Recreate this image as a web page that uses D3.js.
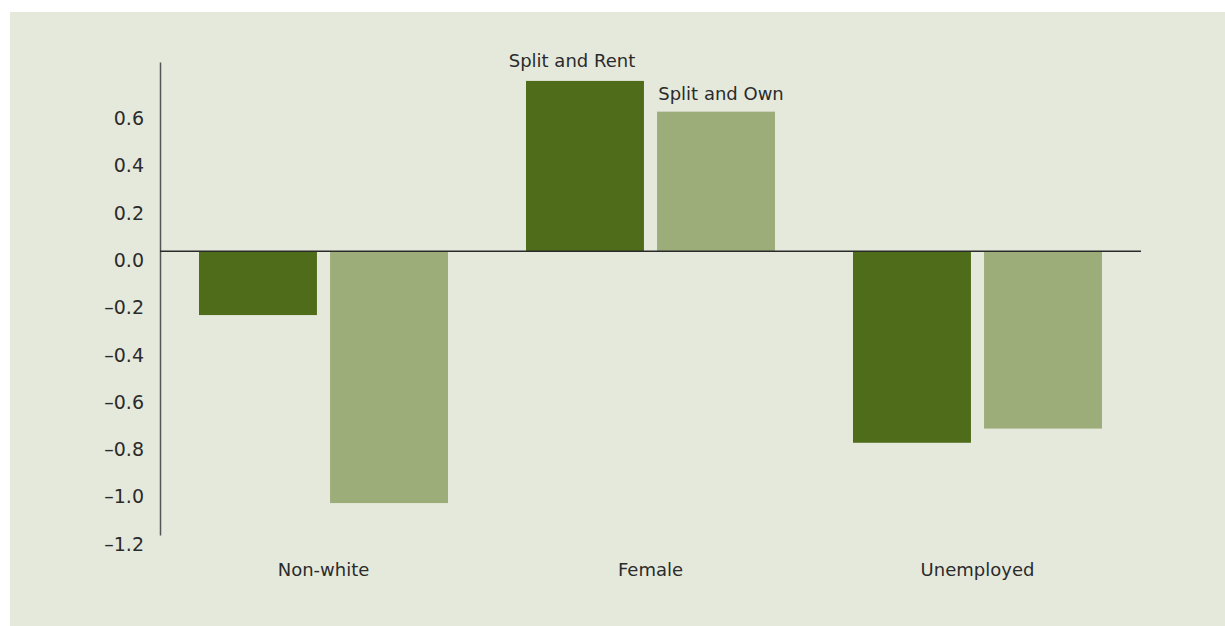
<!DOCTYPE html>
<html>
<head>
<meta charset="utf-8">
<script src="https://cdn.jsdelivr.net/npm/d3@7"></script>
<style>
  html, body { margin: 0; padding: 0; background: #ffffff; }
  svg { display: block; }
  text { font-family: "DejaVu Sans", sans-serif; fill: #2b2b2b; }
</style>
</head>
<body>
<svg id="chart" width="1225" height="626"></svg>
<script>
// ---- data ----
const categories = ["Non-white", "Female", "Unemployed"];
const seriesNames = ["Split and Rent", "Split and Own"];
const splitAndRent = [-0.27, 0.72, -0.81];
const splitAndOwn = [-1.065, 0.59, -0.75];
const tickValues = [0.6, 0.4, 0.2, 0.0, -0.2, -0.4, -0.6, -0.8, -1.0, -1.2];
const yDomain = [-1.2, 0.8];

const colors = { "Split and Rent": "#4e6c19", "Split and Own": "#9cad79" };

const svg = d3.select("#chart");
const W = 1225, H = 626;

// panel background
svg.append("rect").attr("x", 10).attr("y", 12).attr("width", W - 10).attr("height", H - 12)
  .attr("fill", "#e5e9dc");

const plot = { left: 160, right: 1141, top: 62, bottom: 535 };

const x0 = d3.scaleBand().domain(categories).range([plot.left, plot.right]).paddingInner(0).paddingOuter(0);
const x1 = d3.scaleBand().domain(seriesNames).range([39, x0.bandwidth() - 39]).paddingInner(0.1).paddingOuter(0);
const y = d3.scaleLinear().domain(yDomain).range([plot.bottom, plot.top]);

const rows = categories.map((c, i) => ({
  category: c,
  values: [
    { series: "Split and Rent", value: splitAndRent[i] },
    { series: "Split and Own", value: splitAndOwn[i] }
  ]
}));

// bars
const g = svg.append("g");
const groups = g.selectAll("g.grp").data(rows).join("g")
  .attr("transform", d => `translate(${x0(d.category)},0)`);
groups.selectAll("rect").data(d => d.values).join("rect")
  .attr("x", d => x1(d.series))
  .attr("width", x1.bandwidth())
  .attr("y", d => y(Math.max(0, d.value)))
  .attr("height", d => Math.abs(y(d.value) - y(0)))
  .attr("fill", d => colors[d.series]);

// series labels above Female bars
const fem = rows[1];
fem.values.forEach(v => {
  svg.append("text")
    .attr("x", x0(fem.category) + x1(v.series) + x1.bandwidth() / 2 + (v.series === "Split and Rent" ? -13 : 5))
    .attr("y", y(v.value) - (v.series === "Split and Rent" ? 14 : 12))
    .attr("text-anchor", "middle")
    .attr("font-size", 18)
    .text(v.series);
});

// y axis
const yAxis = d3.axisLeft(y).tickValues(tickValues).tickSize(0).tickPadding(16)
  .tickFormat(d => (d < 0 ? "\u2013" : "") + d3.format(".1f")(Math.abs(d)));
const ya = svg.append("g").attr("transform", `translate(${plot.left},0)`).call(yAxis);
ya.select(".domain").attr("stroke", "#555").attr("stroke-width", 1.5);
ya.selectAll(".tick text").attr("font-family", "DejaVu Sans, sans-serif")
  .attr("font-size", 19).attr("fill", "#2b2b2b").attr("dy", "0.8em");

// zero line
svg.append("line").attr("x1", plot.left).attr("x2", plot.right)
  .attr("y1", y(0)).attr("y2", y(0)).attr("stroke", "#2b2b2b").attr("stroke-width", 1.5);

// category labels
const xAxis = d3.axisBottom(x0).tickSize(0).tickPadding(0);
const xa = svg.append("g").attr("transform", `translate(0,${plot.bottom + 41})`).call(xAxis);
xa.select(".domain").remove();
xa.selectAll(".tick text").attr("font-family", "DejaVu Sans, sans-serif")
  .attr("font-size", 18).attr("fill", "#2b2b2b").attr("dy", 0);
</script>
</body>
</html>
